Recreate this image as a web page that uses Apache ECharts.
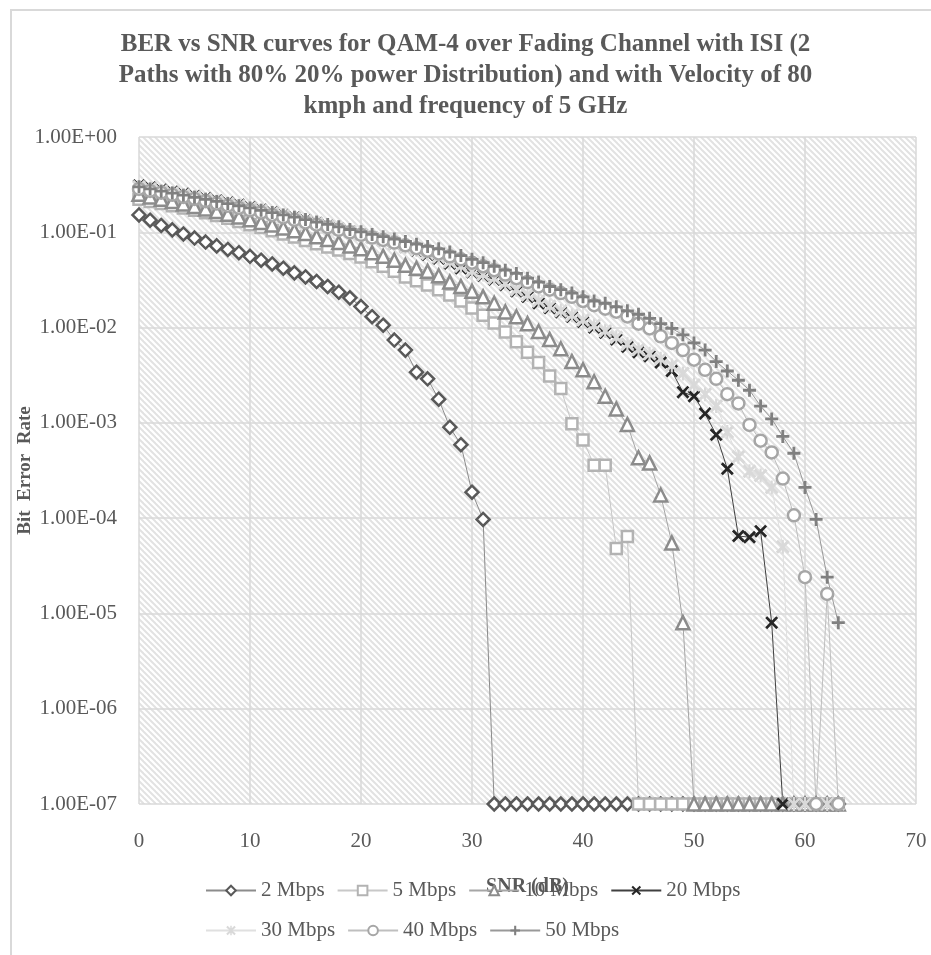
<!DOCTYPE html>
<html>
<head>
<meta charset="utf-8">
<script src="https://cdn.jsdelivr.net/npm/echarts@6/dist/echarts.min.js"></script>
<style>
html, body { margin: 0; padding: 0; background: #fff; }
#chart { position: absolute; left: 0; top: 0; width: 931px; height: 955px; }
#frame { position: absolute; left: 10px; top: 9px; width: 940px; height: 960px;
         border-left: 2px solid #d9d9d9; border-top: 2px solid #d9d9d9; pointer-events: none; }
</style>
</head>
<body>
<div id="chart"></div>
<div id="frame"></div>
<script>
const snr = [0,1,2,3,4,5,6,7,8,9,10,11,12,13,14,15,16,17,18,19,20,21,22,23,24,25,26,27,28,29,
  30,31,32,33,34,35,36,37,38,39,40,41,42,43,44,45,46,47,48,49,50,51,52,53,54,55,56,57,58,59,60,61,62,63]

// 1e-7 stands for "no errors" (bottom of the log axis)
const mb2 = [0.152,0.134,0.118,0.106,0.096,0.087,0.079,0.072,0.066,0.061,
  0.056,0.051,0.0465,0.042,0.0375,0.034,0.0305,0.027,0.0235,0.0205,
  0.0166,0.013,0.0106,0.0074,0.0058,0.0034,0.0029,0.00177,0.0009,0.00059,
  0.000187,0.000097,1e-7,1e-7,1e-7,1e-7,1e-7,1e-7,1e-7,1e-7,
  1e-7,1e-7,1e-7,1e-7,1e-7,1e-7,1e-7,1e-7,1e-7,1e-7,
  1e-7,1e-7,1e-7,1e-7,1e-7,1e-7,1e-7,1e-7,1e-7,1e-7,1e-7,1e-7,1e-7,1e-7]

const mb5 = [0.222,0.21,0.2,0.19,0.18,0.17,0.16,0.15,0.14,0.13,
  0.12,0.112,0.104,0.096,0.089,0.082,0.076,0.07,0.065,0.06,
  0.055,0.049,0.044,0.039,0.034,0.031,0.028,0.025,0.022,0.019,
  0.016,0.0135,0.0112,0.009,0.0071,0.0055,0.0043,0.0031,0.0023,0.00098,
  0.00066,0.00036,0.00036,0.000048,0.000064,1e-7,1e-7,1e-7,1e-7,1e-7,
  1e-7,1e-7,1e-7,1e-7,1e-7,1e-7,1e-7,1e-7,1e-7,1e-7,1e-7,1e-7,1e-7,1e-7]

const mb10 = [0.25,0.235,0.222,0.21,0.198,0.187,0.176,0.165,0.155,0.145,
  0.135,0.127,0.119,0.111,0.104,0.097,0.09,0.084,0.078,0.072,
  0.067,0.061,0.056,0.051,0.045,0.042,0.039,0.035,0.03,0.027,
  0.024,0.021,0.018,0.0146,0.013,0.011,0.0091,0.0075,0.006,0.0044,
  0.0036,0.0027,0.0019,0.0014,0.00096,0.00043,0.00038,0.000175,0.000055,0.000008,
  1e-7,1e-7,1e-7,1e-7,1e-7,1e-7,1e-7,1e-7,1e-7,1e-7,1e-7,1e-7,1e-7,1e-7]

const mb20 = [0.31,0.295,0.28,0.266,0.253,0.24,0.228,0.216,0.205,0.194,
  0.183,0.172,0.162,0.152,0.143,0.134,0.125,0.117,0.109,0.102,
  0.095,0.088,0.082,0.076,0.07,0.064,0.058,0.053,0.047,0.042,
  0.038,0.035,0.032,0.028,0.024,0.021,0.018,0.016,0.0145,0.013,
  0.0115,0.01,0.0088,0.0075,0.0063,0.0055,0.005,0.0043,0.0035,0.0021,
  0.0019,0.00125,0.00075,0.00033,0.000065,0.000063,0.000073,0.000008,1e-7,1e-7,1e-7,1e-7,1e-7,1e-7]

const mb30 = [0.3,0.286,0.272,0.259,0.246,0.234,0.222,0.211,0.2,0.19,
  0.179,0.169,0.159,0.15,0.141,0.132,0.124,0.116,0.108,0.101,
  0.094,0.088,0.082,0.076,0.07,0.065,0.06,0.055,0.049,0.044,
  0.039,0.036,0.033,0.029,0.025,0.022,0.019,0.0167,0.015,0.0135,
  0.012,0.0105,0.0092,0.0079,0.0067,0.0059,0.0053,0.0047,0.004,0.0033,
  0.0025,0.002,0.0015,0.0008,0.00044,0.00031,0.00028,0.00021,0.00005,1e-7,1e-7,1e-7,1e-7,1e-7]

const mb40 = [0.285,0.272,0.26,0.247,0.235,0.224,0.212,0.2,0.19,0.18,
  0.17,0.161,0.152,0.143,0.135,0.127,0.12,0.113,0.106,0.1,
  0.094,0.088,0.083,0.078,0.073,0.068,0.064,0.06,0.056,0.052,
  0.048,0.044,0.04,0.036,0.033,0.03,0.027,0.025,0.023,0.021,
  0.019,0.0172,0.0158,0.0147,0.0131,0.011,0.0098,0.0081,0.0069,0.0058,
  0.0046,0.0036,0.0029,0.002,0.0016,0.00095,0.00065,0.00049,0.00026,0.000107,
  0.000024,1e-7,0.000016,1e-7]

const mb50 = [0.3,0.285,0.27,0.258,0.245,0.233,0.222,0.211,0.2,0.19,
  0.18,0.17,0.161,0.152,0.144,0.136,0.128,0.121,0.114,0.107,
  0.101,0.095,0.09,0.085,0.08,0.075,0.071,0.067,0.062,0.057,
  0.052,0.048,0.044,0.04,0.037,0.033,0.03,0.027,0.025,0.023,
  0.021,0.019,0.018,0.0165,0.015,0.0138,0.0125,0.011,0.0098,0.0084,
  0.0069,0.0058,0.0044,0.0035,0.0028,0.0022,0.0015,0.0011,0.00072,0.00048,
  0.00021,0.000097,0.000024,0.000008]

const serif = 'Liberation Serif'
const txt = '#595959'

// marker shapes excel uses that echarts doesn't have
const plusPath = 'path://M4.7,0H7.3V4.7H12V7.3H7.3V12H4.7V7.3H0V4.7H4.7Z'
const crossPath = 'path://M0,1.8L1.8,0L6,4.2L10.2,0L12,1.8L7.8,6L12,10.2L10.2,12L6,7.8L1.8,12L0,10.2L4.2,6Z'
const starPath = crossPath + 'M5.1,0H6.9V12H5.1Z'

function hatch() {
    let c = document.createElement('canvas')
    c.width = 6
    c.height = 6
    let ctx = c.getContext('2d')
    ctx.fillStyle = '#fff'
    ctx.fillRect(0, 0, 6, 6)
    ctx.strokeStyle = '#e2e2e2'
    ctx.lineWidth = 2
    for (let k of [-6, 0, 6]) {
        ctx.beginPath()
        ctx.moveTo(-1, -1 + k)
        ctx.lineTo(7, 7 + k)
        ctx.stroke()
    }
    return c
}

function sci(v) {
    let e = Math.round(Math.log10(v))
    return '1.00E' + (e < 0 ? '-' : '+') + String(Math.abs(e)).padStart(2, '0')
}

const pairs = arr => arr.map((v, i) => [snr[i], v])

function hollow(name, arr, symbol, size, col, lineCol) {
    return {
        name: name, type: 'line', data: pairs(arr), symbol: symbol, symbolSize: size,
        clip: false,
        itemStyle: { color: '#fff', borderColor: col, borderWidth: 2.5 },
        lineStyle: { color: lineCol, width: 1 }
    }
}

function solid(name, arr, symbol, size, col, lineCol) {
    return {
        name: name, type: 'line', data: pairs(arr), symbol: symbol, symbolSize: size,
        clip: false,
        itemStyle: { color: col, borderWidth: 0 },
        lineStyle: { color: lineCol, width: 1 }
    }
}

const legendText = { fontFamily: serif, fontSize: 21, color: txt, width: 72 }

const chart = echarts.init(document.getElementById('chart'))
const option = {
    animation: false,
    title: {
        text: 'BER vs SNR curves for QAM-4 over Fading Channel with ISI (2\nPaths with 80% 20% power Distribution) and with Velocity of 80\nkmph and frequency of 5 GHz',
        left: 'center', top: 29, padding: 0,
        textStyle: { fontFamily: serif, fontSize: 25, fontWeight: 'bold', color: txt, lineHeight: 31, align: 'center' }
    },
    legend: [
        { data: ['2 Mbps', '5 Mbps', '10 Mbps', '20 Mbps'], left: 205, top: 880, padding: 0,
          itemWidth: 50, itemHeight: 12, itemGap: 12, textStyle: legendText },
        { data: ['30 Mbps', '40 Mbps', '50 Mbps'], left: 205, top: 920, padding: 0,
          itemWidth: 50, itemHeight: 12, itemGap: 12, textStyle: legendText }
    ],
    grid: {
        left: 139, right: 15, top: 137, bottom: 151, show: true, borderWidth: 0,
        backgroundColor: { image: hatch(), repeat: 'repeat' }
    },
    xAxis: {
        type: 'value', min: 0, max: 70, interval: 10,
        name: 'SNR (dB)', nameLocation: 'middle', nameGap: 73,
        nameTextStyle: { fontFamily: serif, fontSize: 20, fontWeight: 'bold', color: txt },
        axisLine: { show: false }, axisTick: { show: false },
        axisLabel: { fontFamily: serif, fontSize: 21, color: txt, margin: 27 },
        splitLine: { lineStyle: { color: '#d9d9d9', width: 1.5 } }
    },
    yAxis: {
        type: 'log', logBase: 10, min: 1e-7, max: 1,
        name: 'Bit  Error  Rate', nameLocation: 'middle', nameGap: 104, nameMoveOverlap: false,
        nameTextStyle: { fontFamily: serif, fontSize: 19, fontWeight: 'bold', color: txt },
        axisLine: { show: false }, axisTick: { show: false },
        axisLabel: { fontFamily: serif, fontSize: 21, color: txt, margin: 22, formatter: sci },
        splitLine: { lineStyle: { color: '#d9d9d9', width: 1.5 } }
    },
    series: [
        hollow('2 Mbps', mb2, 'diamond', 13, '#595959', '#8c8c8c'),
        hollow('5 Mbps', mb5, 'rect', 11, '#b3b3b3', '#c8c8c8'),
        hollow('10 Mbps', mb10, 'triangle', 13, '#8c8c8c', '#a6a6a6'),
        solid('20 Mbps', mb20, crossPath, 13, '#262626', '#404040'),
        solid('30 Mbps', mb30, starPath, 14, '#d9d9d9', '#e0e0e0'),
        hollow('40 Mbps', mb40, 'circle', 12, '#a6a6a6', '#bfbfbf'),
        solid('50 Mbps', mb50, plusPath, 13, '#808080', '#999999')
    ]
}
chart.setOption(option)
</script>
</body>
</html>
